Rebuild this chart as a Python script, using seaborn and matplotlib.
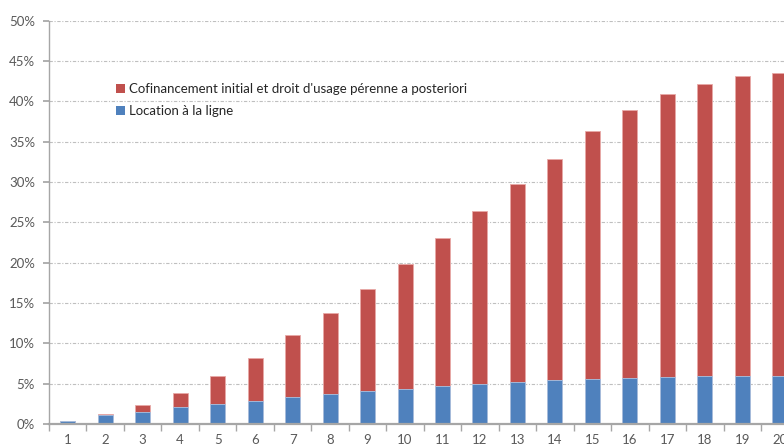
import matplotlib
matplotlib.use("Agg")
import matplotlib.pyplot as plt
import seaborn as sns
import pandas as pd
from matplotlib.ticker import FixedLocator, PercentFormatter
from matplotlib.patches import Patch

years = [str(i) for i in range(1, 21)]
location_ligne = [0.35, 1.1, 1.5, 2.05, 2.5, 2.9, 3.3, 3.75, 4.1, 4.4,
                  4.65, 4.95, 5.2, 5.45, 5.55, 5.7, 5.8, 5.95, 5.95, 5.95]
total_cofin = [0.4, 1.3, 2.4, 3.9, 5.9, 8.2, 11.0, 13.8, 16.7, 19.8,
               23.1, 26.4, 29.7, 32.9, 36.3, 38.9, 40.9, 42.2, 43.1, 43.5]
label_red = "Cofinancement initial et droit d'usage pérenne a posteriori"
label_blue = "Location à la ligne"

red = "#C0504D"
blue = "#4F81BD"
grey_text = "#595959"

df = pd.DataFrame({"annee": years, "location": location_ligne, "total": total_cofin})

sns.set_theme(style="white")
plt.rcParams["font.family"] = ["Lato", "DejaVu Sans"]

fig = plt.figure(figsize=(7.84, 4.46), dpi=100)
ax = fig.add_axes([49 / 784, 22 / 446, 749.5 / 784, 403.3 / 446])

sns.barplot(data=df, x="annee", y="total", order=years, color=red, width=0.4,
            saturation=1, edgecolor="#E8A9A7", linewidth=0.6, ax=ax)
sns.barplot(data=df, x="annee", y="location", order=years, color=blue, width=0.4,
            saturation=1, edgecolor="#A9C3E3", linewidth=0.6, ax=ax)

ax.set_xlim(-0.5, 19.5)
ax.set_ylim(0, 50)
ax.set_yticks(range(0, 51, 5))
ax.yaxis.set_major_formatter(PercentFormatter(decimals=0))
ax.yaxis.grid(True, color="#BFBFBF", linestyle=(0, (3, 1.5, 1, 1.5)), linewidth=0.8)
ax.set_axisbelow(True)
ax.set_xlabel("")
ax.set_ylabel("")

# category labels at centers, tick marks at boundaries
ax.tick_params(axis="x", which="major", length=0, pad=7, labelsize=9.5, labelcolor=grey_text)
ax.xaxis.set_minor_locator(FixedLocator([i + 0.5 for i in range(-1, 20)]))
ax.tick_params(axis="x", which="minor", length=5, color="#A6A6A6", direction="out", bottom=True)
ax.tick_params(axis="y", length=4, color="#A6A6A6", direction="out", left=True,
               labelsize=9.5, labelcolor=grey_text, pad=6)

for s in ["top", "right"]:
    ax.spines[s].set_visible(False)
for s in ["left", "bottom"]:
    ax.spines[s].set_color("#A6A6A6")
    ax.spines[s].set_linewidth(1.0)
ax.spines["bottom"].set_linewidth(1.6)

handles = [Patch(facecolor=red, edgecolor="none", label=label_red),
           Patch(facecolor=blue, edgecolor="none", label=label_blue)]
fig.legend(handles=handles, loc="upper left", bbox_to_anchor=(111 / 784, 1 - 78 / 446),
           frameon=False, fontsize=9.5, handlelength=0.65, handleheight=0.65,
           handletextpad=0.35, labelspacing=0.75, labelcolor="#262626", borderaxespad=0)

fig.savefig("out.png", dpi=100)
